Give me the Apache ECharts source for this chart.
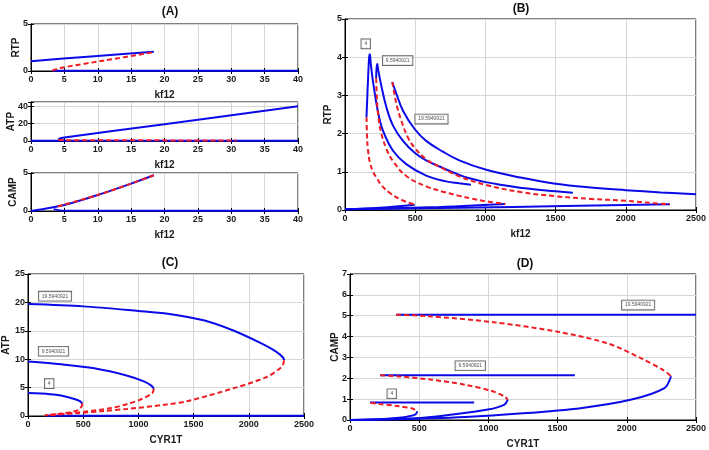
<!DOCTYPE html>
<html lang="en">
<head>
<meta charset="UTF-8">
<title>Bifurcation diagrams</title>
<script src="https://cdn.jsdelivr.net/npm/echarts/dist/echarts.min.js"></script>
<style>
  html, body { margin: 0; background: #fff; }
  #chart { width: 709px; height: 450px; }
</style>
</head>
<body>
<div id="chart"></div>
<script>
// ---- values, [x, y] pairs ----
// (A) sweeps over kf12
var rtpStableA   = [[0,1.05],[9,1.55],[18.4,2.05]];
var rtpUnstableA = [[3.2,0.03],[3.6,0.14],[4.2,0.3],[11,1.12],[18.4,2.0]];
var rtpLowerA    = [[3.2,0.03],[40,0.03]];
var atpStableA   = [[4.1,1.5],[4.3,2.9],[5,4],[20,19.4],[40,40]];
var atpUnstableA = [[4.1,1.5],[5,1.0],[30.8,0.6]];
var atpLowerA    = [[0,0.3],[40,0.3]];
var campStableA   = [[0,0],[5,0.8],[10,2.1],[15,3.6],[18.4,4.7]];
var campUnstableA = [[4,0.6],[5,0.85],[10,2.1],[15,3.6],[18.4,4.7]];
var campLowerA    = [[3.4,0.25],[4.5,0.08],[40,0.03]];

// (B) RTP vs kf12, one fold per CYR1T value
var b4Stable   = [[153,2.43],[165,3.5],[172,4.0],[177,4.08],[183,3.85],[200,3.35],[236,2.55],[271,2.07],[342,1.55],[436,1.2],[578,0.9],[720,0.75],[814,0.7],[897,0.66]];
var b4Unstable = [[153,2.43],[157,1.95],[163,1.6],[177,1.25],[200,1.0],[224,0.85],[260,0.65],[318,0.45],[400,0.27],[496,0.14]];
var b4Lower    = [[0,0.02],[250,0.06],[496,0.14]];
var b9Stable   = [[222,3.45],[225,3.72],[230,3.82],[236,3.68],[259,3.25],[295,2.69],[342,2.21],[413,1.81],[496,1.5],[578,1.3],[696,1.1],[814,0.92],[887,0.83],[1000,0.73],[1133,0.65],[1300,0.56],[1500,0.49],[1623,0.45]];
var b9Unstable = [[222,3.45],[226,3.0],[236,2.5],[259,2.0],[295,1.6],[342,1.28],[436,0.89],[578,0.62],[696,0.48],[814,0.37],[900,0.3],[1000,0.23],[1142,0.16]];
var b9Lower    = [[0,0.02],[600,0.07],[1142,0.16]];
var b19Stable   = [[337,3.35],[366,3.04],[413,2.6],[496,2.12],[578,1.81],[696,1.53],[814,1.3],[1000,1.06],[1250,0.85],[1500,0.69],[1750,0.59],[2000,0.52],[2250,0.46],[2500,0.41]];
var b19Unstable = [[337,3.35],[366,2.78],[401,2.34],[448,1.9],[496,1.63],[578,1.33],[696,1.09],[814,0.88],[1000,0.66],[1250,0.47],[1500,0.36],[1750,0.29],[2000,0.24],[2200,0.18],[2314,0.15]];
var b19Lower    = [[0,0.02],[1200,0.08],[2314,0.15]];
var bTags = [[148,4.35,'4'],[375,3.91,'9.5940921'],[616,2.38,'19.5940921']];

// (C) ATP vs CYR1T
var c4Stable    = [[0,4.05],[200,3.85],[300,3.6],[420,3.0],[470,2.6],[492,2.2]];
var c4Unstable  = [[492,2.2],[486,1.7],[462,1.2],[420,0.82],[300,0.42],[180,0.15]];
var c9Stable    = [[0,9.6],[300,9.1],[600,8.4],[900,7.1],[1050,6.1],[1120,5.3],[1140,4.8]];
var c9Unstable  = [[1140,4.8],[1125,4.0],[1020,2.9],[900,2.1],[750,1.4],[450,0.6],[180,0.18]];
var c19Stable   = [[0,19.7],[500,19.3],[1000,18.5],[1266,18.0],[1600,16.8],[1865,15.0],[2100,12.9],[2250,11.3],[2310,10.3],[2320,9.8]];
var c19Unstable = [[2320,9.8],[2300,8.7],[2165,6.9],[1865,4.9],[1440,2.6],[1266,2.05],[900,1.25],[668,0.85],[450,0.5],[150,0.12]];
var cLower      = [[160,0.05],[2500,0.05]];
var cTags = [[245,21.1,'19.5940921'],[231,11.4,'9.5940921'],[192,5.7,'4']];

// (D) CAMP vs CYR1T
var d4Flat      = [[145,0.84],[897,0.84]];
var d4Unstable  = [[150,0.83],[212,0.77],[355,0.66],[450,0.55],[486,0.42]];
var d4Lower     = [[486,0.42],[474,0.27],[420,0.17],[355,0.11],[200,0.03],[0,0]];
var d9Flat      = [[219,2.14],[1625,2.14]];
var d9Unstable  = [[219,2.14],[355,2.09],[593,1.93],[831,1.69],[1021,1.4],[1116,1.13],[1140,0.98]];
var d9Lower     = [[1140,0.98],[1116,0.74],[997,0.5],[712,0.24],[474,0.08],[0,0]];
var d19Flat     = [[333,5.05],[2500,5.05]];
var d19Unstable = [[333,5.05],[560,4.98],[1035,4.69],[1511,4.22],[1868,3.66],[2106,2.95],[2261,2.4],[2320,2.1]];
var d19Lower    = [[2320,2.1],[2272,1.53],[2034,0.98],[1677,0.58],[1250,0.32],[725,0.11],[0,0]];
var dTags = [[2082,5.51,'19.5940921'],[869,2.6,'9.5940921'],[302,1.26,'4']];

// ---- layout ----
var BLUE = '#0a0ae8', RED = '#f01c24';
var FONT = 'Liberation Sans';

var panels = [
  {box: {left: 31, top: 24, width: 267, height: 47},  x: [0, 40, 5],   y: [0, 5, 5],   xName: 'kf12',  yName: 'RTP',  yGap: 10, smooth: 0.25},
  {box: {left: 31, top: 102, width: 267, height: 39}, x: [0, 40, 5],   y: [0, 45, 20], xName: 'kf12',  yName: 'ATP',  yGap: 15, smooth: 0.25},
  {box: {left: 31, top: 173, width: 267, height: 38}, x: [0, 40, 5],   y: [0, 5, 5],   xName: 'kf12',  yName: 'CAMP', yGap: 13, smooth: 0.25},
  {box: {left: 345, top: 19, width: 353, height: 191}, x: [0, 2500, 500], y: [0, 5, 1], xName: 'kf12',  yName: 'RTP',  yGap: 12, smooth: 0.4},
  {box: {left: 26, top: 274, width: 278, height: 142}, x: [0, 2500, 500], y: [0, 25, 5], xName: 'CYR1T', yName: 'ATP', yGap: 17, smooth: 0.3},
  {box: {left: 350, top: 274, width: 349, height: 148}, x: [0, 2500, 500], y: [0, 7, 1], xName: 'CYR1T', yName: 'CAMP', yGap: 10, smooth: 0.3}
];

var grids = [], xAxes = [], yAxes = [];
panels.forEach(function (p, i) {
  grids.push(Object.assign({show: true, borderColor: '#000', borderWidth: 1}, p.box));
  var lbl = {fontSize: 9, fontWeight: 'bold', color: '#1a1a1a', fontFamily: FONT, margin: 4,
    formatter: function (v) { return String(v); }};
  var tick = {inside: true, length: 3, lineStyle: {color: '#000'}};
  var line = {show: true, lineStyle: {color: '#000', width: 1}};
  var split = {show: true, lineStyle: {color: '#d6d6d6', width: 1}};
  var yStep = p.y[2];
  xAxes.push({type: 'value', gridIndex: i, min: p.x[0], max: p.x[1], interval: p.x[2],
    name: p.xName, nameLocation: 'middle', nameGap: 19, nameMoveOverlap: false,
    nameTextStyle: {fontSize: 10, fontWeight: 'bold', color: '#1a1a1a', fontFamily: FONT},
    axisLine: line, axisTick: tick, axisLabel: lbl, splitLine: split});
  xAxes.push({type: 'value', gridIndex: i, position: 'top', min: p.x[0], max: p.x[1], interval: p.x[2],
    axisLine: line, axisTick: tick, axisLabel: {show: false}, splitLine: {show: false}});
  yAxes.push({type: 'value', gridIndex: i, min: p.y[0], max: p.y[1], interval: yStep,
    name: p.yName, nameLocation: 'middle', nameGap: p.yGap, nameMoveOverlap: false,
    nameTextStyle: {fontSize: 10, fontWeight: 'bold', color: '#1a1a1a', fontFamily: FONT},
    axisLine: line, axisTick: tick, splitLine: split,
    axisLabel: Object.assign({}, lbl, {margin: 3, formatter: function (v) { return v % yStep === 0 ? String(v) : ''; }})});
  yAxes.push({type: 'value', gridIndex: i, position: 'right', min: p.y[0], max: p.y[1], interval: yStep,
    axisLine: line, axisTick: tick, axisLabel: {show: false}, splitLine: {show: false}});
});

var series = [];
function curve(panel, data, stable) {
  series.push({
    type: 'line', xAxisIndex: panel * 2, yAxisIndex: panel * 2, data: data,
    showSymbol: false, symbol: 'none', smooth: panels[panel].smooth,
    lineStyle: stable ? {color: BLUE, width: 2} : {color: RED, width: 2, type: [5, 3]},
    z: stable ? 2 : 3
  });
}
function tags(panel, data) {
  series.push({
    type: 'scatter', xAxisIndex: panel * 2, yAxisIndex: panel * 2, data: data,
    symbolSize: 1, itemStyle: {color: 'rgba(0,0,0,0)'}, z: 5,
    label: {show: true, position: 'inside', formatter: function (d) { return d.value[2]; },
      fontSize: 5, color: '#222', fontFamily: FONT, backgroundColor: '#fff',
      borderColor: '#333', borderWidth: 0.8, padding: [2, 3, 2, 3]}
  });
}

curve(0, rtpStableA, true); curve(0, rtpLowerA, true); curve(0, rtpUnstableA, false);
curve(1, atpStableA, true); curve(1, atpLowerA, true); curve(1, atpUnstableA, false);
curve(2, campStableA, true); curve(2, campLowerA, true); curve(2, campUnstableA, false);

[[b4Stable, b4Unstable, b4Lower], [b9Stable, b9Unstable, b9Lower], [b19Stable, b19Unstable, b19Lower]]
  .forEach(function (s) { curve(3, s[0], true); curve(3, s[2], true); curve(3, s[1], false); });
tags(3, bTags);

curve(4, cLower, true);
[[c4Stable, c4Unstable], [c9Stable, c9Unstable], [c19Stable, c19Unstable]]
  .forEach(function (s) { curve(4, s[0], true); curve(4, s[1], false); });
tags(4, cTags);

[[d4Flat, d4Unstable, d4Lower], [d9Flat, d9Unstable, d9Lower], [d19Flat, d19Unstable, d19Lower]]
  .forEach(function (s) { curve(5, s[0], true); curve(5, s[2], true); curve(5, s[1], false); });
tags(5, dTags);

var titles = [['(A)', 170, 12], ['(B)', 521, 9], ['(C)', 170, 263], ['(D)', 525, 264]];
var graphic = titles.map(function (t) {
  return {type: 'text', x: t[1], y: t[2], z: 10,
    style: {text: t[0], font: 'bold 12px "' + FONT + '"', fill: '#111', textAlign: 'center', textVerticalAlign: 'middle'}};
});

var chart = echarts.init(document.getElementById('chart'));
chart.setOption({
  animation: false,
  backgroundColor: '#fff',
  grid: grids,
  xAxis: xAxes,
  yAxis: yAxes,
  series: series,
  graphic: graphic
});
</script>
</body>
</html>
